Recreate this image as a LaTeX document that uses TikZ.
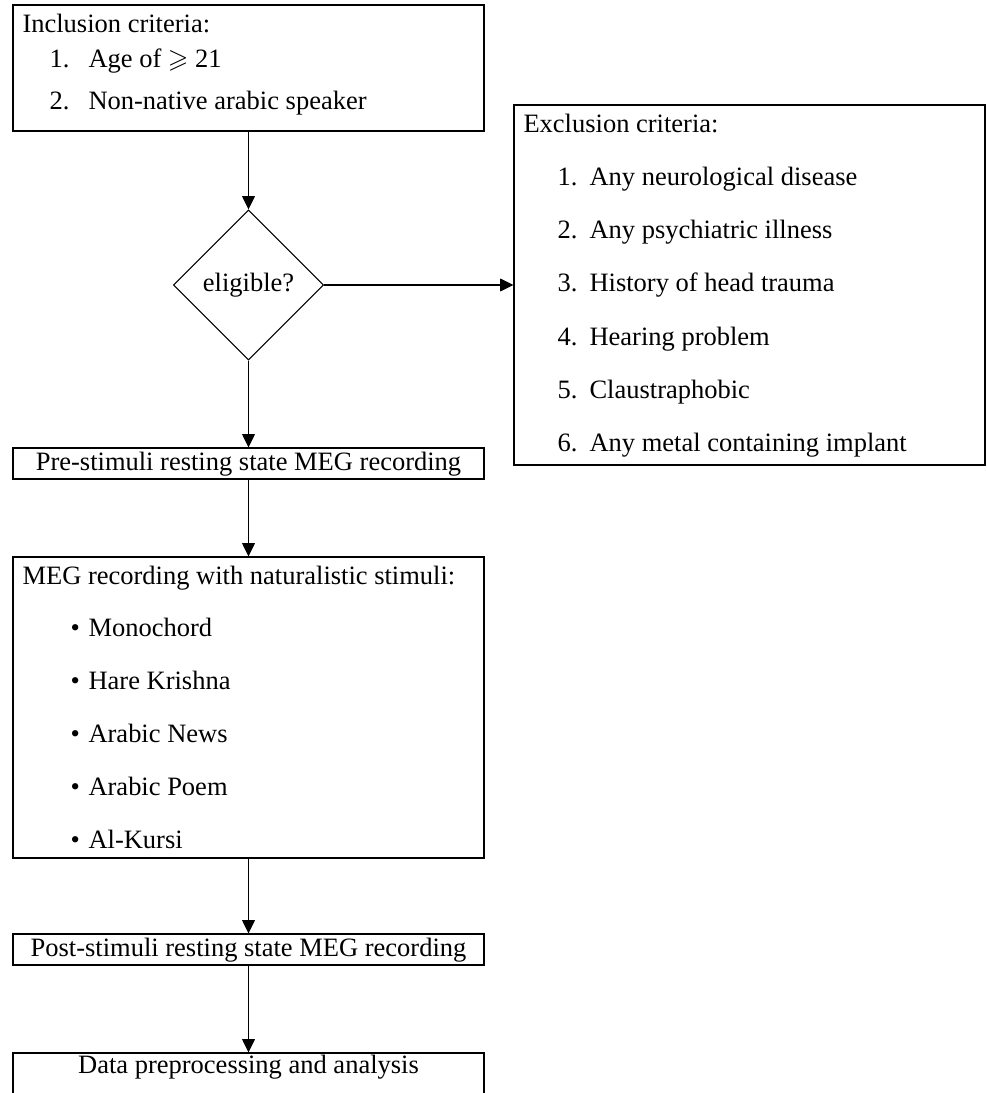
\documentclass[tikz,border=0pt]{standalone}
\usepackage{amssymb}
\usepackage{fontspec}
\setmainfont{Liberation Serif}
\usetikzlibrary{shapes.geometric,arrows.meta,fit}
\begin{document}
\begin{tikzpicture}[x=0.3774pt,y=-0.3774pt,
  box/.style={draw,line width=0.4pt,inner sep=0pt,rectangle},
  txt/.style={anchor=base west,inner sep=0pt,font=\fontsize{10}{12}\selectfont},
  ctxt/.style={anchor=base,inner sep=0pt,font=\fontsize{10}{12}\selectfont},
  decision/.style={diamond,draw,line width=0.4pt,inner sep=0pt,minimum width=56.6pt,minimum height=56.6pt,font=\fontsize{10}{12}\selectfont},
  arr/.style={line width=0.4pt,-{Triangle[length=5pt,width=4.8pt]}}]
\clip (0,0) rectangle (986,1093);
\fill[white] (0,0) rectangle (986,1093);

% Inclusion box
\node[box,fit={(13,5) (484,131)}] (incl) {};
\node[txt] (inclt) at (22,33) {Inclusion criteria:};
\node[txt] (incl1n) at (49,68) {1.};
\node[txt] (incl1) at (88,68) {Age of $\geqslant$ 21};
\node[txt] (incl2n) at (49,110) {2.};
\node[txt] (incl2) at (88,110) {Non-native arabic speaker};

% Decision
\node[decision] (dia) at (248.5,285) {eligible?};

% Exclusion box
\node[box,fit={(514,105) (985,465)}] (excl) {};
\node[txt] (exclt) at (523,133) {Exclusion criteria:};
\node[txt] (ex1n) at (557,186) {1.};
\node[txt] (ex1) at (589,186) {Any neurological disease};
\node[txt] (ex2n) at (557,239) {2.};
\node[txt] (ex2) at (589,239) {Any psychiatric illness};
\node[txt] (ex3n) at (557,292) {3.};
\node[txt] (ex3) at (589,292) {History of head trauma};
\node[txt] (ex4n) at (557,345) {4.};
\node[txt] (ex4) at (589,345) {Hearing problem};
\node[txt] (ex5n) at (557,398) {5.};
\node[txt] (ex5) at (589,398) {Claustraphobic};
\node[txt] (ex6n) at (557,451) {6.};
\node[txt] (ex6) at (589,451) {Any metal containing implant};

% Pre-stimuli
\node[box,fit={(13,448) (484,479)}] (pre) {};
\node[ctxt] (pret) at (248.5,470) {Pre-stimuli resting state MEG recording};

% MEG box
\node[box,fit={(13,557) (484,858)}] (meg) {};
\node[txt] (megt) at (22,584) {MEG recording with naturalistic stimuli:};
\node[txt] (b1) at (70,636) {\textbullet};
\node[txt] (m1) at (88,636) {Monochord};
\node[txt] (b2) at (70,689) {\textbullet};
\node[txt] (m2) at (88,689) {Hare Krishna};
\node[txt] (b3) at (70,742) {\textbullet};
\node[txt] (m3) at (88,742) {Arabic News};
\node[txt] (b4) at (70,795) {\textbullet};
\node[txt] (m4) at (88,795) {Arabic Poem};
\node[txt] (b5) at (70,848) {\textbullet};
\node[txt] (m5) at (88,848) {Al-Kursi};

% Post-stimuli
\node[box,fit={(13,934) (484,965)}] (post) {};
\node[ctxt] (postt) at (248.5,956) {Post-stimuli resting state MEG recording};

% Data box (cut off at bottom)
\node[box,fit={(13,1053) (484,1110)}] (data) {};
\node[ctxt] (datat) at (248.5,1073) {Data preprocessing and analysis};

% Connectors
\draw[arr] (incl.south) -- (dia.north);
\draw[arr] (dia.east) -- (excl.west);
\draw[arr] (dia.south) -- (pre.north);
\draw[arr] (pre.south) -- (meg.north);
\draw[arr] (meg.south) -- (post.north);
\draw[arr] (post.south) -- (data.north);
\end{tikzpicture}
\end{document}
